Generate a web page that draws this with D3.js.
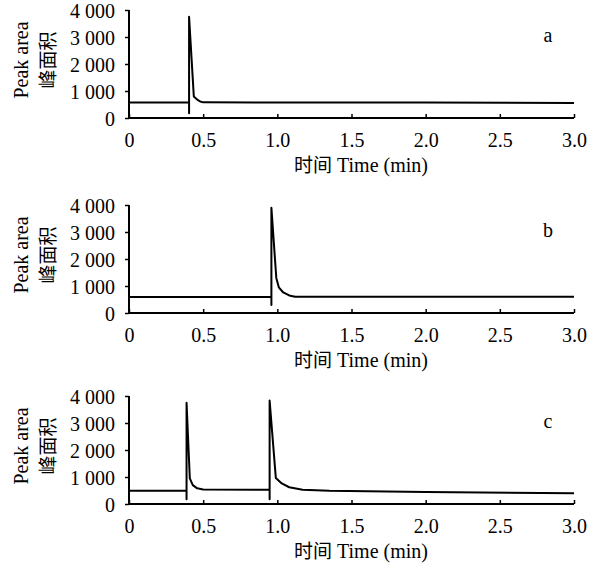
<!DOCTYPE html>
<html><head><meta charset="utf-8">
<script src="https://cdn.jsdelivr.net/npm/d3@7"></script>
<style>body{margin:0;background:#fff}</style>
</head><body>
<script>
const xTicks = [0, 0.5, 1.0, 1.5, 2.0, 2.5, 3.0];
const yTicks = [0, 1000, 2000, 3000, 4000];
const panelLabels = ["a", "b", "c"];
const tA = [0, 0.405, 0.405, 0.405, 0.437, 0.46, 0.48, 0.5, 1.0, 2.0, 3.0];
const vA = [570, 570, 180, 3750, 800, 680, 610, 580, 575, 570, 560];
const tB = [0, 0.96, 0.96, 0.96, 0.993, 1.01, 1.04, 1.08, 1.12, 2.0, 3.0];
const vB = [590, 590, 300, 3900, 1300, 950, 760, 650, 600, 600, 600];
const tC = [0, 0.388, 0.388, 0.388, 0.41, 0.43, 0.46, 0.5, 0.948, 0.948, 0.948, 0.99, 1.03, 1.08, 1.17, 1.35, 2.0, 3.0];
const vC = [490, 490, 180, 3750, 950, 700, 580, 540, 525, 180, 3830, 960, 760, 620, 530, 490, 440, 400];
const series = [[tA, vA], [tB, vB], [tC, vC]];

const W = 601, H = 567;
const serif = "'Liberation Serif','Times New Roman',serif";
const cjk = "'Noto Sans CJK SC',sans-serif";
const svg = d3.select("body").append("svg").attr("width", W).attr("height", H)
  .style("font-family", serif);
const bottoms = [118, 313, 504];
const x = d3.scaleLinear().domain([0, 3]).range([129, 574]);
const fmt = d => d === 0 ? "0" : d3.format(",")(d).replace(",", " ");
const xf = d => d === 0 ? "0" : d3.format(".1f")(d);

series.forEach(([t, v], i) => {
  const b = bottoms[i];
  const y = d3.scaleLinear().domain([0, 4000]).range([b, b - 108]);
  const g = svg.append("g");
  const ya = g.append("g").attr("transform", `translate(${x(0)},0)`)
    .call(d3.axisLeft(y).tickValues(yTicks).tickFormat(fmt).tickSize(4).tickPadding(10));
  const xa = g.append("g").attr("transform", `translate(0,${b})`)
    .call(d3.axisBottom(x).tickValues(xTicks).tickFormat(xf).tickSize(-4).tickPadding(11));
  [ya, xa].forEach(a => {
    a.select(".domain").attr("stroke", "#000").attr("stroke-width", 2);
    a.selectAll(".tick line").attr("stroke", "#000").attr("stroke-width", 1.5);
    a.selectAll("text").attr("fill", "#000").style("font-size", "20px")
      .style("font-family", serif);
  });
  ya.select(".domain").attr("d", `M0,${b}V${b - 108}`);
  xa.select(".domain").attr("d", `M${x(0)},0H${x(3)}`);
  xa.selectAll("text").attr("dy", "0.9em");
  ya.selectAll("text").attr("dy", "0.35em");

  const line = d3.line().x((d, k) => x(t[k])).y(d => y(d));
  g.append("path").datum(v).attr("d", line).attr("fill", "none")
    .attr("stroke", "#000").attr("stroke-width", 2).attr("stroke-linejoin", "round");

  // y titles
  const cy = b - 58;
  g.append("text").attr("transform", `translate(28,${cy}) rotate(-90)`)
    .attr("text-anchor", "middle").style("font-size", "20px").text("Peak area");
  g.append("text").attr("transform", `translate(55,${cy}) rotate(-90)`)
    .attr("text-anchor", "middle").style("font-size", "19px")
    .style("font-family", cjk).text("峰面积");

  // x title
  const xt = g.append("text").attr("x", 361).attr("y", b + 54).attr("text-anchor", "middle").style("font-size", "20px");
  xt.append("tspan").style("font-family", cjk).style("font-size", "19px").text("时间");
  xt.append("tspan").text(" Time (min)");

  g.append("text").attr("x", 548).attr("y", b - 76).attr("text-anchor", "middle")
    .style("font-size", "20px").text(panelLabels[i]);
});
</script>
</body></html>
